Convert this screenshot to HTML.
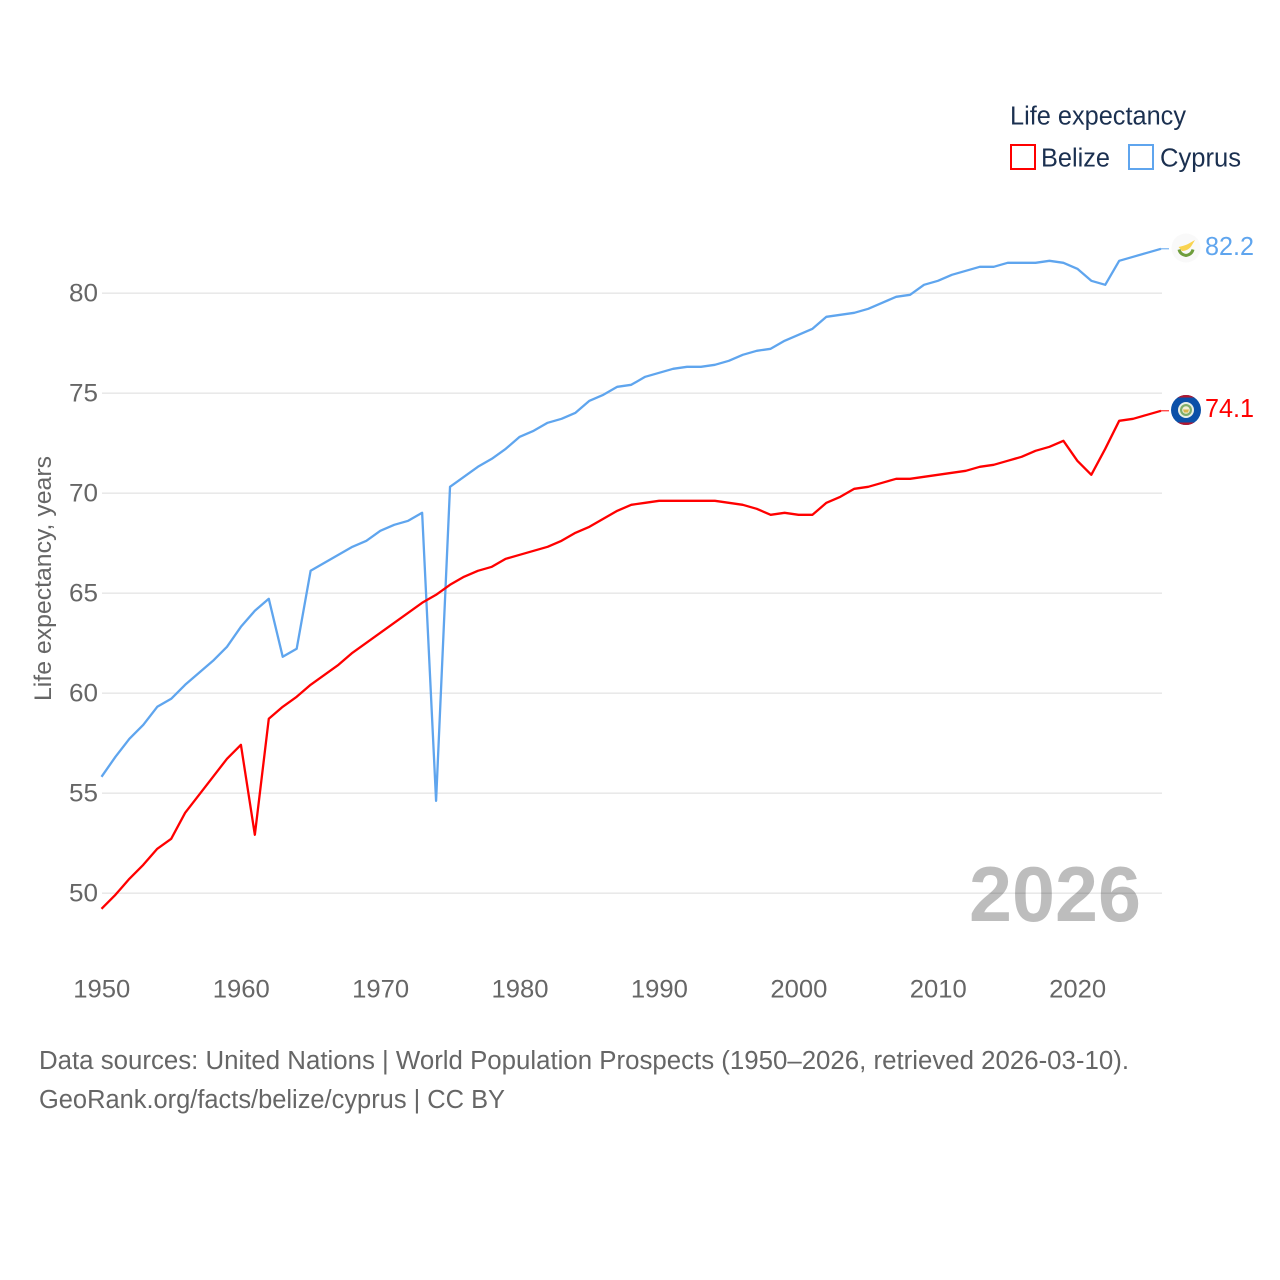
<!DOCTYPE html>
<html lang="en">
<head>
<meta charset="utf-8">
<title>Life expectancy: Belize and Cyprus</title>
<style>
html,body{margin:0;padding:0;background:#fff;width:1280px;height:1280px;overflow:hidden}
svg{display:block}
text{font-family:"Liberation Sans",sans-serif}
</style>
</head>
<body>
<svg id="chart" xmlns="http://www.w3.org/2000/svg" width="1280" height="1280" viewBox="0 0 1280 1280">
  <rect width="1280" height="1280" fill="#fff"/>
  <g id="grid"></g>
  <g id="yticks"></g>
  <g id="xticks"></g>
  <text transform="translate(51,701) rotate(-90)" font-size="24" fill="#666" textLength="245" lengthAdjust="spacingAndGlyphs">Life expectancy, years</text>
  <text x="969" y="921" font-size="78" font-weight="bold" fill="#000" fill-opacity="0.26" textLength="172" lengthAdjust="spacingAndGlyphs">2026</text>
  <g id="series"></g>

  <g>
    <text x="1010" y="124.5" font-size="25.5" fill="#1b3050" textLength="176" lengthAdjust="spacingAndGlyphs">Life expectancy</text>
    <g>
      <rect x="1011" y="145" width="24" height="24" fill="#fff" stroke="#ff0000" stroke-width="2"/>
      <text x="1041" y="166.5" font-size="25.5" fill="#1b3050" textLength="69" lengthAdjust="spacingAndGlyphs">Belize</text>
    </g>
    <g>
      <rect x="1129" y="145" width="24" height="24" fill="#fff" stroke="#5fa5ee" stroke-width="2"/>
      <text x="1160" y="166.5" font-size="25.5" fill="#1b3050" textLength="81" lengthAdjust="spacingAndGlyphs">Cyprus</text>
    </g>
  </g>

  <defs>
    <clipPath id="belize-clip"><circle cx="1186" cy="410" r="15"/></clipPath>
  </defs>
  <g>
    <circle cx="1186" cy="248" r="14.5" fill="#f9f9f9"/>
    <path d="M1178.5 247 C1183 246 1186 245 1188 244 L1195 240 L1192 245 C1190 249 1186 251 1182 251 Z" fill="#f9d34f"/>
    <path d="M1179 249.5 C1180 253.5 1183 255 1186 255.5 C1189 255 1192 253.5 1193 249.5" fill="none" stroke="#6f9e3d" stroke-width="3"/>
  </g>
  <g clip-path="url(#belize-clip)">
    <rect x="1170" y="394" width="32" height="32" fill="#0b50a8"/>
    <rect x="1170" y="394" width="32" height="3.5" fill="#b3172f"/>
    <rect x="1170" y="422.5" width="32" height="3.5" fill="#b3172f"/>
    <circle cx="1186" cy="410" r="8" fill="#e8efe6"/>
    <circle cx="1186" cy="410" r="6" fill="#7fae6a"/>
    <circle cx="1186" cy="410" r="3.8" fill="#f2f0d8"/>
    <path d="M1183 409.5 h6 l-1 3 h-4 Z" fill="#d9b64a"/>
  </g>
  <g id="endlabels"></g>

  <g>
    <text x="39" y="1069" font-size="25.5" fill="#666" textLength="1090" lengthAdjust="spacingAndGlyphs">Data sources: United Nations | World Population Prospects (1950–2026, retrieved 2026-03-10).</text>
    <text x="39" y="1108" font-size="25.5" fill="#666" textLength="466" lengthAdjust="spacingAndGlyphs">GeoRank.org/facts/belize/cyprus | CC BY</text>
  </g>
</svg>
<script>
const years = [1950,1951,1952,1953,1954,1955,1956,1957,1958,1959,1960,1961,1962,1963,1964,1965,1966,1967,1968,1969,1970,1971,1972,1973,1974,1975,1976,1977,1978,1979,1980,1981,1982,1983,1984,1985,1986,1987,1988,1989,1990,1991,1992,1993,1994,1995,1996,1997,1998,1999,2000,2001,2002,2003,2004,2005,2006,2007,2008,2009,2010,2011,2012,2013,2014,2015,2016,2017,2018,2019,2020,2021,2022,2023,2024,2025,2026];
const belize = [49.2,49.9,50.7,51.4,52.2,52.7,54.0,54.9,55.8,56.7,57.4,52.9,58.7,59.3,59.8,60.4,60.9,61.4,62.0,62.5,63.0,63.5,64.0,64.5,64.9,65.4,65.8,66.1,66.3,66.7,66.9,67.1,67.3,67.6,68.0,68.3,68.7,69.1,69.4,69.5,69.6,69.6,69.6,69.6,69.6,69.5,69.4,69.2,68.9,69.0,68.9,68.9,69.5,69.8,70.2,70.3,70.5,70.7,70.7,70.8,70.9,71.0,71.1,71.3,71.4,71.6,71.8,72.1,72.3,72.6,71.6,70.9,72.2,73.6,73.7,73.9,74.1];
const cyprus = [55.8,56.8,57.7,58.4,59.3,59.7,60.4,61.0,61.6,62.3,63.3,64.1,64.7,61.8,62.2,66.1,66.5,66.9,67.3,67.6,68.1,68.4,68.6,69.0,54.6,70.3,70.8,71.3,71.7,72.2,72.8,73.1,73.5,73.7,74.0,74.6,74.9,75.3,75.4,75.8,76.0,76.2,76.3,76.3,76.4,76.6,76.9,77.1,77.2,77.6,77.9,78.2,78.8,78.9,79.0,79.2,79.5,79.8,79.9,80.4,80.6,80.9,81.1,81.3,81.3,81.5,81.5,81.5,81.6,81.5,81.2,80.6,80.4,81.6,81.8,82.0,82.2];
const yTickValues = [50,55,60,65,70,75,80];
const xTickValues = [1950,1960,1970,1980,1990,2000,2010,2020];

const NS = 'http://www.w3.org/2000/svg';
const xOf = function (year) { return 101.5 + (year - 1950) * (1059.5 / 76); };
const yOf = function (value) { return 892.8 - (value - 50) * 20; };

function make(tag, attrs, parent, content) {
  const el = document.createElementNS(NS, tag);
  Object.keys(attrs).forEach(function (k) { el.setAttribute(k, attrs[k]); });
  if (content !== undefined) el.textContent = content;
  parent.appendChild(el);
  return el;
}

const grid = document.getElementById('grid');
const yticks = document.getElementById('yticks');
const xticks = document.getElementById('xticks');
const seriesLayer = document.getElementById('series');
const endLabels = document.getElementById('endlabels');

yTickValues.forEach(function (v) {
  const line = make('line', {x1: 102, x2: 1162, y1: yOf(v) + 0.4, y2: yOf(v) + 0.4, stroke: '#e6e6e6', 'stroke-width': 1.3}, grid);
  
  
  const label = make('text', {x: 69, y: yOf(v) + 8.5, 'font-size': 25, fill: '#666', textLength: 29, lengthAdjust: 'spacingAndGlyphs'}, yticks, String(v));
  
  
});

xTickValues.forEach(function (v) {
  const label = make('text', {x: xOf(v) + 0.3, y: 997.5, 'font-size': 25, fill: '#666', 'text-anchor': 'middle', textLength: 57, lengthAdjust: 'spacingAndGlyphs'}, xticks, String(v));
  
  
});

function drawSeries(values, color, name) {
  const pts = values.map(function (v, i) { return xOf(years[i]).toFixed(2) + ',' + yOf(v).toFixed(2); }).join(' ');
  const line = make('polyline', {points: pts, fill: 'none', stroke: color, 'stroke-width': 2.3, 'stroke-linejoin': 'round'}, seriesLayer);
  
  
  const last = values[values.length - 1];
  const y = yOf(last);
  const connector = make('line', {x1: xOf(years[years.length - 1]), x2: 1169, y1: y, y2: y, stroke: color, 'stroke-width': 1}, seriesLayer);
  
  
  const label = make('text', {x: 1205, y: y + 6, 'font-size': 26, fill: color, textLength: 49, lengthAdjust: 'spacingAndGlyphs'}, endLabels, last.toFixed(1));
  
  
}

drawSeries(cyprus, '#5fa5ee', 'cyprus');
drawSeries(belize, '#ff0000', 'belize');
</script>
</body>
</html>
